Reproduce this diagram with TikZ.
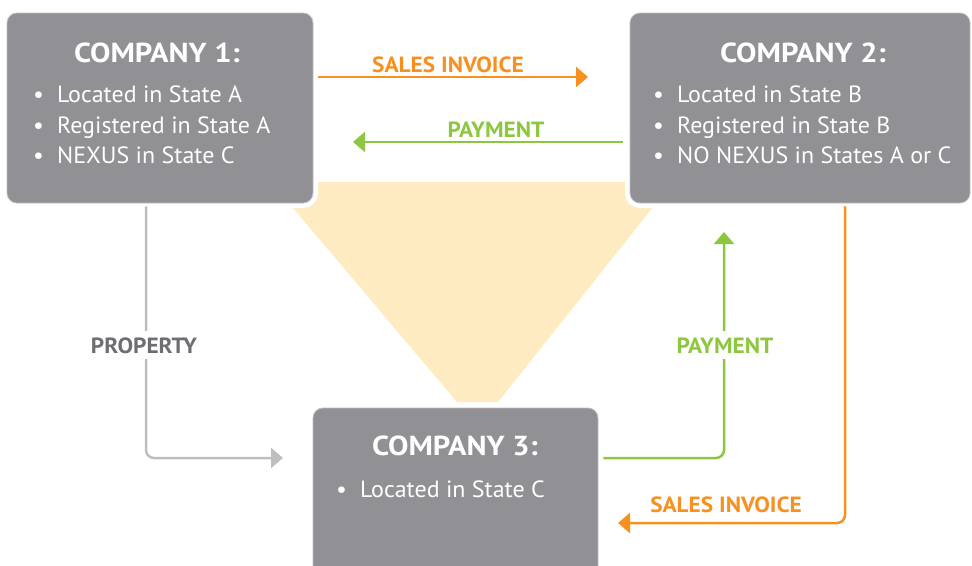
\documentclass[tikz,border=0pt]{standalone}
\usepackage{fontspec}
\setmainfont{PT Sans}
\newfontfamily\itemfont[FakeStretch=1.02]{PT Sans}
\newfontfamily\titlefont[FakeStretch=1.11]{PT Sans}
\newfontfamily\labfont[FakeStretch=1.06]{PT Sans}
\usetikzlibrary{arrows.meta}
\definecolor{boxgray}{RGB}{145,144,149}
\definecolor{boxrim}{RGB}{190,190,193}
\definecolor{trifill}{RGB}{254,235,194}
\definecolor{orangec}{RGB}{247,144,30}
\definecolor{greenc}{RGB}{141,198,63}
\definecolor{graylc}{RGB}{189,190,192}
\definecolor{propc}{RGB}{109,110,113}
\begin{document}
\begin{tikzpicture}[x=1pt,y=-1pt,
  box/.style={fill=boxgray, draw=boxrim, line width=0.8pt, rounded corners=10pt, inner sep=0pt,
              preaction={draw=white, line width=10pt}},
  title/.style={text=white, font=\titlefont\bfseries\fontsize{27.5}{30}\selectfont, anchor=base, inner sep=0pt},
  item/.style={text=white, font=\itemfont\fontsize{23.5}{26}\selectfont, anchor=base west, inner sep=0pt},
  lab/.style={font=\labfont\bfseries\fontsize{22}{24}\selectfont, anchor=base, inner sep=0pt},
  conn/.style={line width=2.5pt, rounded corners=8pt, -{Triangle[length=12pt,width=20pt]}},
]
\useasboundingbox (0,0) rectangle (972,565);
% funnel
\fill[trifill] (271,182) -- (673,182) -- (498,402) -- (457,402) -- cycle;
% boxes
\node[box, minimum width=306pt, minimum height=190pt] (c1) at (160,108) {};
\node[box, minimum width=340pt, minimum height=190pt] (c2) at (800,108) {};
\node[box, minimum width=285pt, minimum height=180pt] (c3) at (455.5,498) {};
% texts
\node[title] (c1t) at (157,62) {COMPANY 1:};
\node[item] (c1a) at (33,102) {\makebox[24pt][l]{\textbullet}Located in State A};
\node[item] (c1b) at (33,133) {\makebox[24pt][l]{\textbullet}Registered in State A};
\node[item] (c1c) at (33,163) {\makebox[24pt][l]{\textbullet}NEXUS in State C};
\node[title] (c2t) at (803,62) {COMPANY 2:};
\node[item] (c2a) at (653,102) {\makebox[24pt][l]{\textbullet}Located in State B};
\node[item] (c2b) at (653,133) {\makebox[24pt][l]{\textbullet}Registered in State B};
\node[item] (c2c) at (653,163) {\makebox[24pt][l]{\textbullet}NO NEXUS in States A or C};
\node[title] (c3t) at (455,455) {COMPANY 3:};
\node[item] (c3a) at (336,497) {\makebox[24pt][l]{\textbullet}Located in State C};
% connectors
\coordinate (si1) at (588,77);
\coordinate (pa1) at (353,142);
\coordinate (pr0) at (146,0);
\coordinate (pr) at (283,458);
\coordinate (g0) at (0,458);
\coordinate (pa2) at (724,232);
\coordinate (o0) at (845,0);
\coordinate (si2) at (618,523);
\draw[conn, orangec] (c1.east |- si1) ++(5,0) -- (si1);
\draw[conn, greenc] (c2.west |- pa1) ++(-7,0) -- (pa1);
\draw[conn, graylc] (c1.south -| pr0) ++(0,3) -- (pr0 |- pr) -- (pr);
\draw[conn, greenc] (c3.east |- g0) ++(5,0) -- (pa2 |- g0) -- (pa2);
\draw[conn, orangec] (c2.south -| o0) ++(0,3) -- (o0 |- si2) -- (si2);
% labels
\node[lab, text=orangec] (l1) at (448,72) {SALES INVOICE};
\node[lab, text=greenc] (l2) at (496,137) {PAYMENT};
\node[lab, text=propc, fill=white, inner xsep=3pt, inner ysep=6pt] (l3) at (144,353) {PROPERTY};
\node[lab, text=greenc, fill=white, inner xsep=3pt, inner ysep=6pt] (l4) at (725,353) {PAYMENT};
\node[lab, text=orangec] (l5) at (726,512) {SALES INVOICE};
\end{tikzpicture}
\end{document}
